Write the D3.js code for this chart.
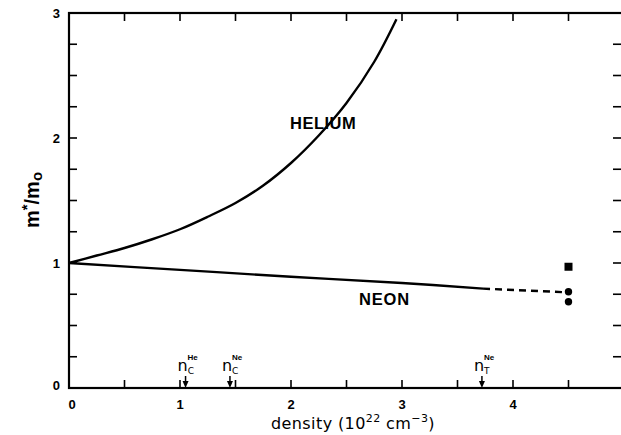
<!DOCTYPE html>
<html><head><meta charset="utf-8">
<script src="https://cdn.jsdelivr.net/npm/d3@7"></script>
<style>body{margin:0;background:#fff}svg{display:block}</style>
</head><body>
<script>
const heliumX = [0, 0.25, 0.5, 0.75, 1.0, 1.25, 1.5, 1.75, 2.0, 2.25, 2.5, 2.75, 2.95];
const heliumY = [1.0, 1.06, 1.12, 1.19, 1.27, 1.37, 1.48, 1.62, 1.80, 2.02, 2.28, 2.61, 2.95];
const neonX = [0, 1, 2, 3, 3.73];
const neonY = [1.0, 0.945, 0.89, 0.84, 0.795];
const neonDashX = [3.73, 4.5];
const neonDashY = [0.795, 0.765];
const squarePts = [[4.5, 0.97]];
const circlePts = [[4.5, 0.77], [4.5, 0.69]];
const arrowX = [1.05, 1.45, 3.72];
const arrowSub = ["C", "C", "T"];
const arrowSup = ["He", "Ne", "Ne"];
const xTickLabels = ["0", "1", "2", "3", "4"];
const yTickLabels = ["0", "1", "2", "3"];

const W = 621, H = 435;
const svg = d3.select("body").append("svg").attr("width", W).attr("height", H);
const x = d3.scaleLinear().domain([0, 5]).range([69, 624]);
const y = d3.scaleLinear().domain([0, 3]).range([388, 13]);

const g = svg.append("g");
// frame
g.append("rect").attr("x", x(0)).attr("y", y(3)).attr("width", x(5) - x(0)).attr("height", y(0) - y(3))
  .attr("fill", "none").attr("stroke", "#000").attr("stroke-width", 2.2);

const tl = 8;
const xt = d3.range(0, 5.01, 0.5);
const yt = d3.range(0, 3.01, 0.25);
g.selectAll(".bt").data(xt.slice(1)).enter().append("line")
  .attr("x1", d => x(d)).attr("x2", d => x(d)).attr("y1", y(0)).attr("y2", y(0) - tl)
  .attr("stroke", "#000").attr("stroke-width", 1.6);
g.selectAll(".tt").data(xt.slice(1)).enter().append("line")
  .attr("x1", d => x(d)).attr("x2", d => x(d)).attr("y1", y(3)).attr("y2", y(3) + tl)
  .attr("stroke", "#000").attr("stroke-width", 1.6);
g.selectAll(".lt").data(yt.slice(1)).enter().append("line")
  .attr("x1", x(0)).attr("x2", x(0) + tl).attr("y1", d => y(d)).attr("y2", d => y(d))
  .attr("stroke", "#000").attr("stroke-width", 1.6);
g.selectAll(".rt").data(yt.slice(1)).enter().append("line")
  .attr("x1", x(5)).attr("x2", x(5) - 11).attr("y1", d => y(d)).attr("y2", d => y(d))
  .attr("stroke", "#000").attr("stroke-width", 1.6);

// tick labels
g.selectAll(".xl").data(xTickLabels).enter().append("text")
  .attr("x", d => x(+d) + (d === "0" ? 3 : 0)).attr("y", 409).attr("text-anchor", "middle")
  .attr("font-family", "Liberation Sans, Arial, sans-serif").attr("font-weight", "bold").attr("font-size", 13)
  .text(d => d);
g.selectAll(".yl").data(yTickLabels).enter().append("text")
  .attr("x", 60).attr("y", d => y(+d) + 5 - (d === "0" ? 3 : 0)).attr("text-anchor", "end")
  .attr("font-family", "Liberation Sans, Arial, sans-serif").attr("font-weight", "bold").attr("font-size", 13)
  .text(d => d);

// axis titles
const xt1 = g.append("text").attr("x", 353).attr("y", 429).attr("text-anchor", "middle")
  .attr("font-family", "DejaVu Sans, sans-serif").attr("font-size", 16).attr("letter-spacing", 0.4);
xt1.append("tspan").text("density (10");
xt1.append("tspan").attr("dy", -7).attr("font-size", 11).text("22");
xt1.append("tspan").attr("dy", 7).text(" cm");
xt1.append("tspan").attr("dy", -7).attr("font-size", 11).text("−3");
xt1.append("tspan").attr("dy", 7).text(")");

const yt1 = g.append("text").attr("transform", "translate(39,200) rotate(-90)").attr("text-anchor", "middle")
  .attr("font-family", "Liberation Sans, Arial, sans-serif").attr("font-weight", "bold").attr("font-size", 20);
yt1.append("tspan").text("m");
yt1.append("tspan").attr("dy", -7).attr("font-size", 15).text("*");
yt1.append("tspan").attr("dy", 7).text("/m");
yt1.append("tspan").attr("dy", 3).attr("font-size", 15).text("o");

// curves
const line = d3.line().x(d => x(d[0])).y(d => y(d[1])).curve(d3.curveCatmullRom);
g.append("path").datum(heliumX.map((v, i) => [v, heliumY[i]])).attr("d", line)
  .attr("fill", "none").attr("stroke", "#000").attr("stroke-width", 2.4);
g.append("path").datum(neonX.map((v, i) => [v, neonY[i]])).attr("d", line)
  .attr("fill", "none").attr("stroke", "#000").attr("stroke-width", 2.4);
g.append("path").datum(neonDashX.map((v, i) => [v, neonDashY[i]])).attr("d", d3.line().x(d => x(d[0])).y(d => y(d[1])))
  .attr("fill", "none").attr("stroke", "#000").attr("stroke-width", 2.4).attr("stroke-dasharray", "7,5");

// markers
g.selectAll(".sq").data(squarePts).enter().append("rect")
  .attr("x", d => x(d[0]) - 4).attr("y", d => y(d[1]) - 4).attr("width", 8).attr("height", 8).attr("fill", "#000");
g.selectAll(".ci").data(circlePts).enter().append("circle")
  .attr("cx", d => x(d[0])).attr("cy", d => y(d[1])).attr("r", 3.7).attr("fill", "#000");

// series labels
g.append("text").attr("x", 290).attr("y", 129).attr("font-family", "Liberation Sans, Arial, sans-serif")
  .attr("font-weight", "bold").attr("font-size", 16.5).attr("letter-spacing", 0.5).text("HELIUM");
g.append("text").attr("x", 359).attr("y", 305).attr("font-family", "Liberation Sans, Arial, sans-serif")
  .attr("font-weight", "bold").attr("font-size", 16.5).attr("letter-spacing", 0.8).text("NEON");

// arrows
arrowX.forEach((v, i) => {
  const ax = x(v);
  g.append("line").attr("x1", ax).attr("x2", ax).attr("y1", 376).attr("y2", 384).attr("stroke", "#000").attr("stroke-width", 1.5);
  g.append("path").attr("d", `M${ax - 3},${381} L${ax + 3},${381} L${ax},${388} Z`).attr("fill", "#000");
  const t = g.append("text").attr("x", ax - 8).attr("y", 371).attr("font-family", "DejaVu Sans, sans-serif").attr("font-size", 16);
  t.append("tspan").text("n");
  t.append("tspan").attr("dy", 3).attr("font-size", 9).text(arrowSub[i]);
  g.append("text").attr("x", ax + 2).attr("y", 360).attr("font-family", "Liberation Sans, Arial, sans-serif")
    .attr("font-weight", "bold").attr("font-size", 8).text(arrowSup[i]);
});
</script>
</body></html>
